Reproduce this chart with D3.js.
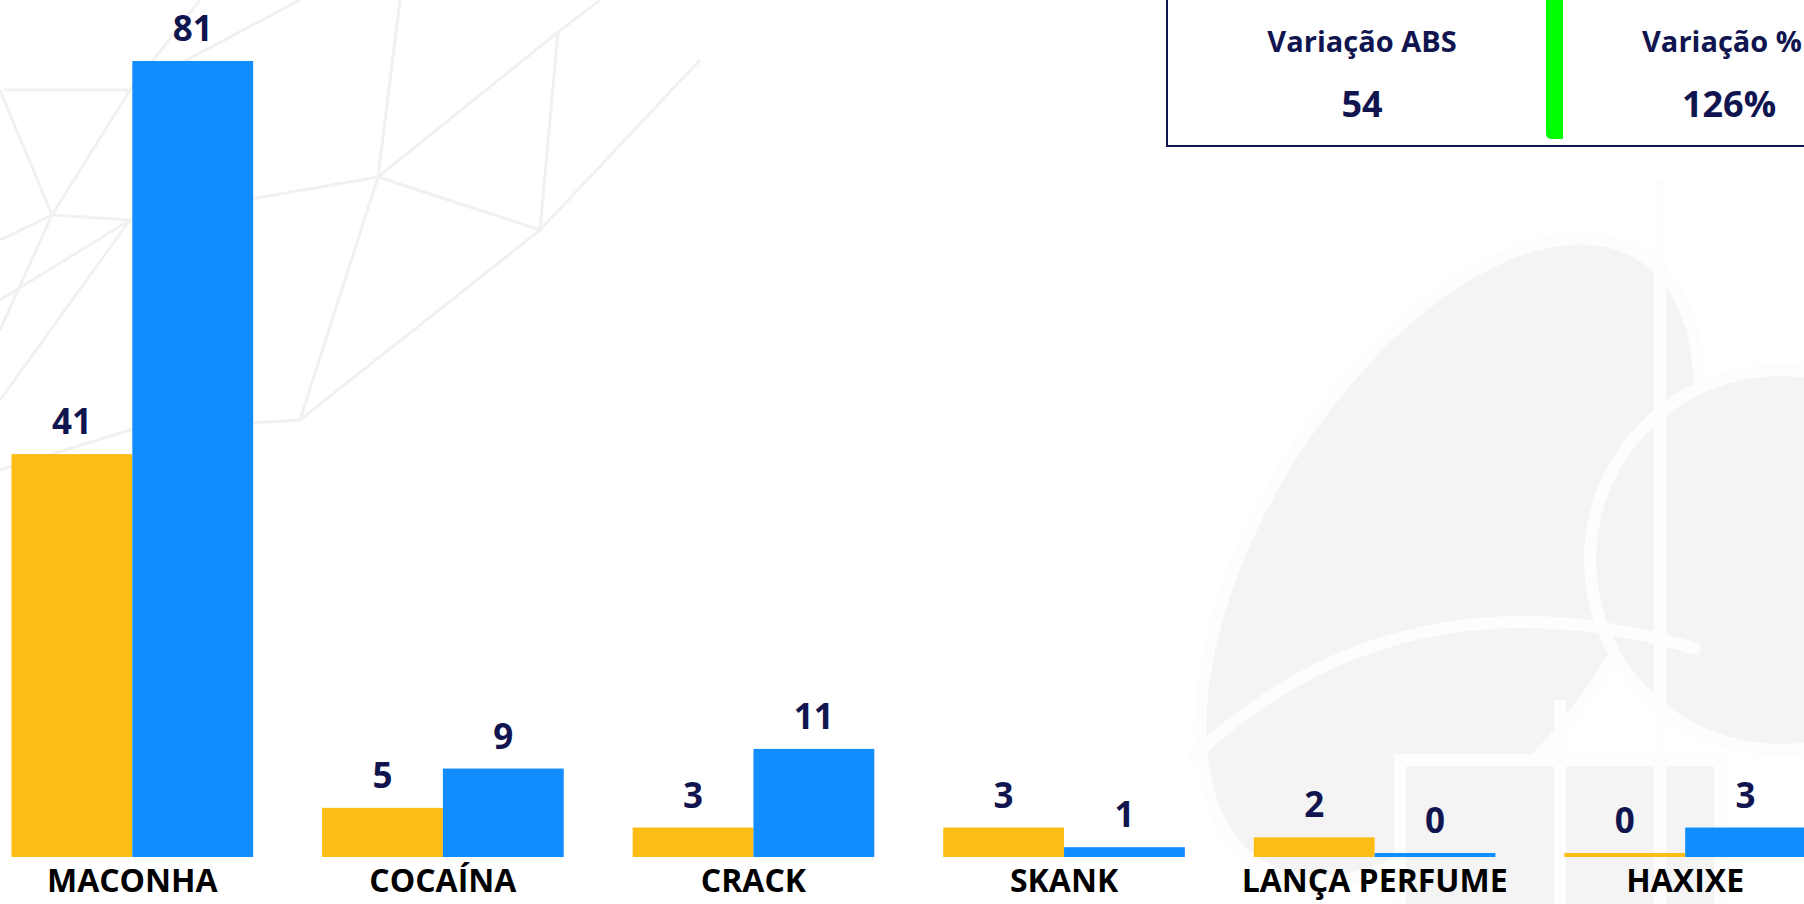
<!DOCTYPE html>
<head>
  <meta charset="utf-8">
  <script src="https://d3js.org/d3.v7.min.js"></script>
  <style>
  body { margin: 0; overflow: hidden; background: #fff; }
  #chart text { font-family: "Open Sans", "Noto Sans", sans-serif; font-weight: 700; }
  .val { fill: #10154f; font-size: 35px; text-anchor: middle; }
  .cat { fill: #000; font-size: 32px; text-anchor: middle; }
  </style>
</head>

<body>
  <svg id="chart"></svg>
  <script>

    var categories = ["MACONHA", "COCAÍNA", "CRACK", "SKANK", "LANÇA PERFUME", "HAXIXE"];
    var anoAnterior = [41, 5, 3, 3, 2, 0];
    var anoAtual = [81, 9, 11, 1, 0, 3];
    var cardTitulos = ["Variação ABS", "Variação %"];
    var cardValores = ["54", "126%"];

    var width = 1804,
        height = 904,
        baseY = 857,
        colors = ["#fdbd14", "#118dff"];

    var svg = d3.select('#chart')
        .attr('width', width)
        .attr('height', height);

    // faint watermark in the background
    var bg = svg.append('g').attr('fill', 'none').attr('stroke', '#f1f1f1').attr('stroke-width', 3);
    var mesh = [
      [[0, 90], [52, 215], [0, 330]],
      [[52, 215], [130, 220], [378, 177], [558, 32], [600, 0]],
      [[130, 220], [0, 300]],
      [[378, 177], [540, 230], [558, 32]],
      [[378, 177], [400, 0]],
      [[4, 90], [130, 90], [300, 0]],
      [[52, 215], [0, 240]],
      [[540, 230], [300, 420], [130, 430], [0, 470]],
      [[378, 177], [300, 420]],
      [[130, 220], [0, 400]],
      [[540, 230], [700, 60]],
      [[200, 0], [130, 90], [52, 215]]
    ];
    bg.selectAll('path').data(mesh).enter().append('path')
        .attr('d', d3.line());

    var emb = svg.append('g').attr('fill', '#f5f4f5').attr('stroke', '#fefdfe').attr('stroke-width', 12);
    emb.append('ellipse').attr('cx', 1450).attr('cy', 560).attr('rx', 190).attr('ry', 360)
        .attr('transform', 'rotate(32 1450 560)');
    emb.append('circle').attr('cx', 1780).attr('cy', 560).attr('r', 190);
    emb.append('rect').attr('x', 1400).attr('y', 760).attr('width', 320).attr('height', 170);
    emb.append('path').attr('fill', 'none')
        .attr('d', 'M1190,760 Q1400,560 1700,650 M1560,700 L1560,904 M1660,180 L1660,904');

    var x0 = d3.scaleBand()
        .domain(categories)
        .range([11.5, 1806])
        .paddingInner(0.222)
        .paddingOuter(0);

    var x1 = d3.scaleBand()
        .domain([0, 1])
        .range([0, x0.bandwidth()]);

    var y = d3.scaleLinear()
        .domain([0, 81])
        .range([baseY, 61]);

    var rows = categories.map(function(c, i) {
      return { cat: c, vals: [anoAnterior[i], anoAtual[i]] };
    });

    var group = svg.selectAll('g.grp')
        .data(rows)
      .enter().append('g')
        .attr('class', 'grp')
        .attr('transform', function(d) { return 'translate(' + x0(d.cat) + ',0)'; });

    function barTop(v) { return Math.min(y(v), baseY - 4); }

    group.selectAll('rect')
        .data(function(d) { return d.vals; })
      .enter().append('rect')
        .attr('x', function(d, i) { return x1(i); })
        .attr('y', function(d) { return barTop(d); })
        .attr('width', x1.bandwidth())
        .attr('height', function(d) { return baseY - barTop(d); })
        .style('fill', function(d, i) { return colors[i]; });

    group.selectAll('text.val')
        .data(function(d) { return d.vals; })
      .enter().append('text')
        .attr('class', 'val')
        .attr('x', function(d, i) { return x1(i) + x1.bandwidth() / 2; })
        .attr('y', function(d) { return barTop(d) - 20; })
        .text(function(d) { return d; });

    group.append('text')
        .attr('class', 'cat')
        .attr('x', x0.bandwidth() / 2)
        .attr('y', 892)
        .text(function(d) { return d.cat; });

    // card top right
    var card = svg.append('g');
    card.append('rect')
        .attr('x', 1167).attr('y', -5)
        .attr('width', 760).attr('height', 151)
        .attr('fill', '#fff')
        .attr('stroke', '#10154f')
        .attr('stroke-width', 2);
    card.append('path')
        .attr('d', 'M1546,0 L1563,0 L1563,139 L1552,139 Q1546,139 1546,133 Z')
        .attr('fill', '#00ff00');

    var cardX = [1362, 1722];
    cardTitulos.forEach(function(t, i) {
      card.append('text')
          .attr('x', cardX[i]).attr('y', 52)
          .attr('text-anchor', 'middle')
          .style('font-size', '29px')
          .style('fill', '#10154f')
          .text(t);
      card.append('text')
          .attr('x', cardX[i] + (i ? 7 : 0)).attr('y', 117)
          .attr('text-anchor', 'middle')
          .style('font-size', '36px')
          .style('fill', '#10154f')
          .text(cardValores[i]);
    });

  </script>
</body>
